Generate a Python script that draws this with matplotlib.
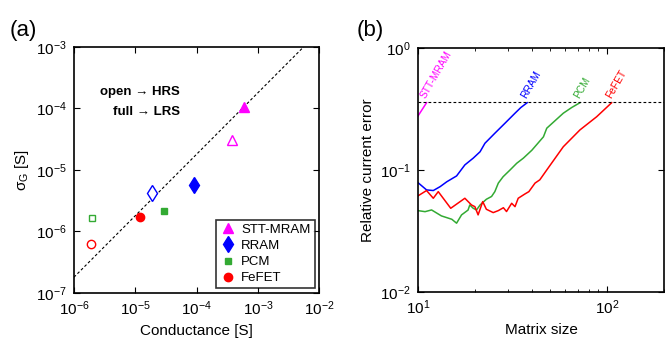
import matplotlib
matplotlib.use("Agg")
import matplotlib.pyplot as plt

plt.rcParams['font.family'] = ['Liberation Sans', 'DejaVu Sans']
plt.rcParams['mathtext.default'] = 'regular'
plt.rcParams['font.size'] = 11

# (a) conductance vs sigma, full state (filled) and open state (hollow)
devices = ["STT-MRAM", "RRAM", "PCM", "FeFET"]
colors = ["#ff00ff", "#0000ff", "#33aa33", "#ff0000"]
markers = ["^", "d", "s", "o"]
msizes = [7, 8, 4.5, 6]
g_full = [5.9e-4, 9.1e-5, 2.95e-5, 1.2e-5]
s_full = [1.05e-4, 5.7e-6, 2.15e-6, 1.7e-6]
g_open = [3.8e-4, 1.86e-5, 1.96e-6, 1.9e-6]
s_open = [3.1e-5, 4.2e-6, 1.65e-6, 6.3e-7]
fit_g = [1e-6, 1e-2]
fit_s = [1.8e-7, 1.8e-3]

# (b) relative current error vs matrix size
stt_n = [10, 11.1]
stt_v = [0.277, 0.356]
rram_n = [10, 11.1, 12.05, 13.1, 14.2, 16.0, 17.7, 19.6, 21.3, 22.6, 25.5, 28.8, 32.6, 35.0, 37.8]
rram_v = [0.0787, 0.0686, 0.0678, 0.073, 0.080, 0.0893, 0.11, 0.125, 0.141, 0.1655, 0.2, 0.241, 0.292, 0.325, 0.356]
pcm_n = [10, 10.9, 11.8, 13.3, 15.1, 16.0, 17.0, 18.4, 18.8, 19.6, 20.4, 21.3, 23.0, 24.5, 25.5,
         26.6, 28.2, 30.7, 33.3, 36.1, 40.0, 46.1, 48.0, 58.7, 65.0, 71.9]
pcm_v = [0.0464, 0.0455, 0.047, 0.042, 0.0394, 0.0366, 0.0428, 0.0469, 0.0516, 0.0485, 0.047, 0.0516,
         0.0575, 0.0606, 0.0664, 0.078, 0.088, 0.1, 0.1135, 0.125, 0.145, 0.187, 0.22, 0.292, 0.325, 0.356]
fefet_n = [10, 11.1, 12.05, 12.8, 14.9, 17.7, 19.2, 20.0, 20.8, 22.0, 23.0, 25.0, 26.6, 28.3, 29.4,
           31.3, 32.6, 33.9, 36.7, 38.6, 41.6, 44.1, 48.0, 58.7, 71.9, 88.1, 105.8]
fefet_v = [0.0613, 0.0678, 0.0586, 0.0664, 0.0485, 0.0586, 0.0516, 0.05, 0.0428, 0.055, 0.0476, 0.0447,
           0.0464, 0.049, 0.0456, 0.0533, 0.05, 0.0586, 0.0634, 0.0664, 0.078, 0.083, 0.1, 0.155, 0.213,
           0.273, 0.356]
limit = 0.36

fig = plt.figure(figsize=(6.72, 3.43), dpi=100)
ax1 = fig.add_axes([0.110, 0.146, 0.365, 0.717])
ax2 = fig.add_axes([0.622, 0.149, 0.366, 0.711])

ax1.plot(fit_g, fit_s, color="black", ls=(0, (2.5, 2)), lw=0.8)
for i in range(4):
    ax1.plot(g_full[i], s_full[i], marker=markers[i], ms=msizes[i], color=colors[i],
             ls="none", label=devices[i])
    ax1.plot(g_open[i], s_open[i], marker=markers[i], ms=msizes[i], mfc="white",
             mec=colors[i], mew=1.0, ls="none")
ax1.set_xscale("log")
ax1.set_yscale("log")
ax1.set_xlim(1e-6, 1e-2)
ax1.set_ylim(1e-7, 1e-3)
ax1.set_xlabel("Conductance [S]")
ax1.set_ylabel(r"$\sigma_G$ [S]")
ax1.text(0.433, 0.817, "open \u2192 HRS", transform=ax1.transAxes, ha="right", va="center",
         fontweight="bold", fontsize=9.5)
ax1.text(0.433, 0.736, "full \u2192 LRS", transform=ax1.transAxes, ha="right", va="center",
         fontweight="bold", fontsize=9.5)
leg = ax1.legend(loc="lower right", frameon=True, fancybox=False, edgecolor="black",
                 borderpad=0.3, handletextpad=0.4, handlelength=1.2, labelspacing=0.3,
                 borderaxespad=0.35, fontsize=9.5)
leg.get_frame().set_linewidth(1.2)

for n, v, c, name in [(stt_n, stt_v, colors[0], devices[0]), (rram_n, rram_v, colors[1], devices[1]),
                      (pcm_n, pcm_v, colors[2], devices[2]), (fefet_n, fefet_v, colors[3], devices[3])]:
    ax2.plot(n, v, color=c, lw=1.1)
    ax2.text(n[-1] * 1.01, limit * 1.05, name, color=c, rotation=60, rotation_mode="anchor",
             ha="left", va="bottom", fontsize=7.3)
ax2.axhline(limit, color="black", ls=(0, (2.5, 2)), lw=0.8)
ax2.set_xscale("log")
ax2.set_yscale("log")
ax2.set_xlim(10, 200)
ax2.set_ylim(1e-2, 1)
ax2.set_xlabel("Matrix size")
ax2.set_ylabel("Relative current error")

for ax in (ax1, ax2):
    ax.tick_params(which="both", direction="in", top=True, right=True)
    ax.tick_params(which="major", length=4, width=0.8, pad=5)
    for s in ax.spines.values():
        s.set_linewidth(1.2)
ax1.minorticks_off()
ax2.tick_params(axis="y", which="minor", left=False, right=False)
ax2.tick_params(axis="x", which="minor", length=2.5, width=0.6)
ax2.xaxis.set_minor_formatter(matplotlib.ticker.NullFormatter())

fig.text(0.015, 0.895, "(a)", fontsize=16)
fig.text(0.53, 0.895, "(b)", fontsize=16)

fig.savefig("out.png", dpi=100)
